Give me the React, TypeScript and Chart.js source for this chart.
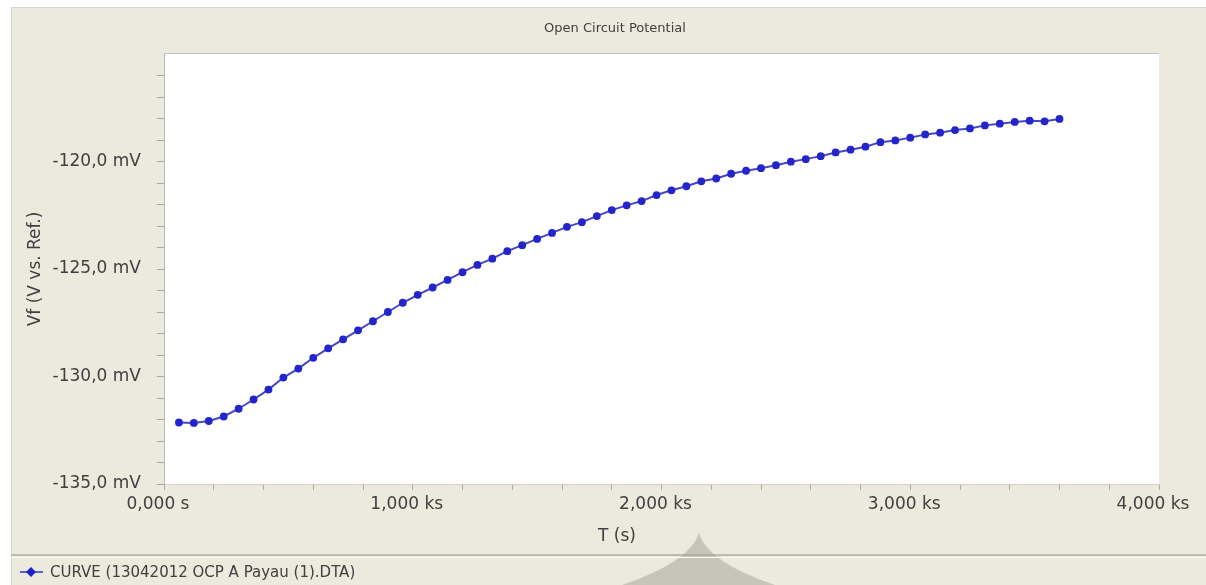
import React, { useEffect, useRef } from 'react';
import { Chart, registerables } from 'chart.js';

Chart.register(...registerables);

const CHART_TITLE = 'Open Circuit Potential';
const X_TITLE = 'T (s)';
const Y_TITLE = 'Vf (V vs. Ref.)';
const SERIES_NAME = 'CURVE (13042012 OCP A Payau (1).DTA)';

const TIME_S = [
  60, 120, 180, 240, 300, 360, 420, 480, 540, 600,
  660, 720, 780, 840, 900, 960, 1020, 1080, 1140, 1200,
  1260, 1320, 1380, 1440, 1500, 1560, 1620, 1680, 1740, 1800,
  1860, 1920, 1980, 2040, 2100, 2160, 2220, 2280, 2340, 2400,
  2460, 2520, 2580, 2640, 2700, 2760, 2820, 2880, 2940, 3000,
  3060, 3120, 3180, 3240, 3300, 3360, 3420, 3480, 3540, 3600,
];

const VF_MV = [
  -132.14, -132.16, -132.07, -131.86, -131.5, -131.07, -130.61, -130.05, -129.63, -129.13,
  -128.69, -128.27, -127.85, -127.43, -127.0, -126.57, -126.2, -125.86, -125.51, -125.15,
  -124.81, -124.52, -124.17, -123.89, -123.6, -123.32, -123.04, -122.82, -122.54, -122.26,
  -122.04, -121.84, -121.56, -121.34, -121.15, -120.92, -120.79, -120.57, -120.43, -120.31,
  -120.17, -120.01, -119.89, -119.75, -119.58, -119.45, -119.31, -119.1, -119.02, -118.89,
  -118.74, -118.66, -118.54, -118.46, -118.32, -118.24, -118.16, -118.1, -118.13, -118.02,
];

const X_TICK_VALUES = [0, 1000, 2000, 3000, 4000];
const X_TICK_LABELS = ['0,000 s', '1,000 ks', '2,000 ks', '3,000 ks', '4,000 ks'];
const Y_TICK_VALUES = [-120, -125, -130, -135];
const Y_TICK_LABELS = ['-120,0 mV', '-125,0 mV', '-130,0 mV', '-135,0 mV'];

const BEIGE = '#ECE9DD';
const TEXT = '#404040';
const FONT = "'DejaVu Sans', sans-serif";

const decorPlugin = {
  id: 'decor',
  beforeDraw(chart: any) {
    const { ctx, chartArea } = chart;
    const W = chart.width;
    const H = chart.height;
    ctx.save();
    ctx.fillStyle = '#FFFFFF';
    ctx.fillRect(0, 0, W, H);
    ctx.fillStyle = BEIGE;
    ctx.fillRect(11, 8, W - 11, H - 8);
    ctx.strokeStyle = '#D8D6CE';
    ctx.lineWidth = 1;
    ctx.beginPath();
    ctx.moveTo(11.5, H);
    ctx.lineTo(11.5, 7.5);
    ctx.lineTo(W, 7.5);
    ctx.stroke();
    // plot area
    ctx.fillStyle = '#FFFFFF';
    ctx.fillRect(chartArea.left, chartArea.top, chartArea.right - chartArea.left, chartArea.bottom - chartArea.top);
    ctx.strokeStyle = '#C4C2BA';
    ctx.beginPath();
    ctx.moveTo(chartArea.left, chartArea.top - 0.5);
    ctx.lineTo(chartArea.right, chartArea.top - 0.5);
    ctx.stroke();
    ctx.restore();
  },
  afterDraw(chart: any) {
    const { ctx } = chart;
    const W = chart.width;
    const H = chart.height;
    ctx.save();
    // title
    ctx.fillStyle = TEXT;
    ctx.textAlign = 'center';
    ctx.textBaseline = 'middle';
    ctx.font = `13px ${FONT}`;
    ctx.fillText(CHART_TITLE, 615, 29);
    // x title
    ctx.font = `17px ${FONT}`;
    ctx.fillText(X_TITLE, 617, 537);

    // decorative shape
    ctx.fillStyle = '#C7C5B8';
    ctx.beginPath();
    ctx.moveTo(699, 533);
    ctx.quadraticCurveTo(707, 562, 775, H);
    ctx.lineTo(622, H);
    ctx.quadraticCurveTo(690, 562, 699, 533);
    ctx.closePath();
    ctx.fill();

    // separator
    ctx.strokeStyle = 'rgba(160,158,148,0.6)';
    ctx.lineWidth = 2;
    ctx.beginPath();
    ctx.moveTo(11, 555);
    ctx.lineTo(W, 555);
    ctx.stroke();
    ctx.strokeStyle = '#FAF9F4';
    ctx.lineWidth = 1;
    ctx.beginPath();
    ctx.moveTo(11, 557.5);
    ctx.lineTo(W, 557.5);
    ctx.stroke();

    // legend
    const ly = 572;
    ctx.strokeStyle = '#3030C0';
    ctx.lineWidth = 1.5;
    ctx.beginPath();
    ctx.moveTo(20, ly);
    ctx.lineTo(43, ly);
    ctx.stroke();
    ctx.fillStyle = '#2020C4';
    ctx.beginPath();
    ctx.moveTo(31, ly - 5);
    ctx.lineTo(36, ly);
    ctx.lineTo(31, ly + 5);
    ctx.lineTo(26, ly);
    ctx.closePath();
    ctx.fill();
    ctx.fillStyle = TEXT;
    ctx.textAlign = 'left';
    ctx.font = `15px ${FONT}`;
    ctx.fillText(SERIES_NAME, 50, ly + 1);
    ctx.restore();
  },
};

export default function App() {
  const canvasRef = useRef<HTMLCanvasElement | null>(null);

  useEffect(() => {
    const canvas = canvasRef.current;
    if (!canvas) return;
    const points = TIME_S.map((t, i) => ({ x: t, y: VF_MV[i] }));
    const chart = new Chart(canvas, {
      type: 'line',
      data: {
        datasets: [
          {
            label: SERIES_NAME,
            data: points,
            borderColor: '#4646C4',
            borderWidth: 2,
            backgroundColor: '#2424CC',
            pointBackgroundColor: '#2424CC',
            pointBorderColor: '#2424CC',
            pointRadius: 3.9,
            pointBorderWidth: 0,
            tension: 0,
            fill: false,
          },
        ],
      },
      options: {
        animation: false,
        responsive: false,
        devicePixelRatio: 1,
        events: [],
        layout: { padding: { left: 22, top: 54, right: 47, bottom: 0 } },
        plugins: {
          legend: { display: false },
          title: { display: false },
          tooltip: { enabled: false },
        },
        scales: {
          x: {
            type: 'linear',
            min: 0,
            max: 4000,
            afterFit: (s: any) => {
              s.height = 101;
            },
            afterBuildTicks: (s: any) => {
              const t = [];
              for (let v = 0; v <= 4000; v += 200) t.push({ value: v });
              s.ticks = t;
            },
            ticks: {
              autoSkip: false,
              maxRotation: 0,
              minRotation: 0,
              padding: 4,
              labelOffset: -6,
              color: TEXT,
              font: { family: FONT, size: 17 },
              callback: (v: any) => {
                const i = X_TICK_VALUES.indexOf(Math.round(Number(v)));
                return i >= 0 ? X_TICK_LABELS[i] : '';
              },
            },
            grid: {
              drawOnChartArea: false,
              drawTicks: true,
              tickLength: 6,
              tickColor: '#A9A9A9',
              tickWidth: 1,
            },
            border: { display: true, color: '#D4D2CA', width: 1 },
          },
          y: {
            type: 'linear',
            min: -135,
            max: -115,
            afterFit: (s: any) => {
              s.width = 142;
            },
            afterBuildTicks: (s: any) => {
              const t = [];
              for (let v = -135; v <= -116; v += 1) t.push({ value: v });
              s.ticks = t;
            },
            ticks: {
              autoSkip: false,
              padding: 16,
              color: TEXT,
              font: { family: FONT, size: 17 },
              callback: (v: any) => {
                const i = Y_TICK_VALUES.indexOf(Math.round(Number(v)));
                return i >= 0 ? Y_TICK_LABELS[i] : '';
              },
            },
            title: {
              display: true,
              text: Y_TITLE,
              color: TEXT,
              font: { family: FONT, size: 17 },
              padding: { top: 3, bottom: 0 },
            },
            grid: {
              drawOnChartArea: false,
              drawTicks: true,
              tickLength: 7,
              tickColor: '#A9A9A9',
              tickWidth: 1,
            },
            border: { display: true, color: '#BDBBB3', width: 1 },
          },
        },
      },
      plugins: [decorPlugin],
    } as any);
    return () => chart.destroy();
  }, []);

  return (
    <div style={{ position: 'absolute', left: 0, top: 0, width: 1206, height: 585 }}>
      <canvas ref={canvasRef} width={1206} height={585} style={{ display: 'block', width: 1206, height: 585 }} />
    </div>
  );
}
